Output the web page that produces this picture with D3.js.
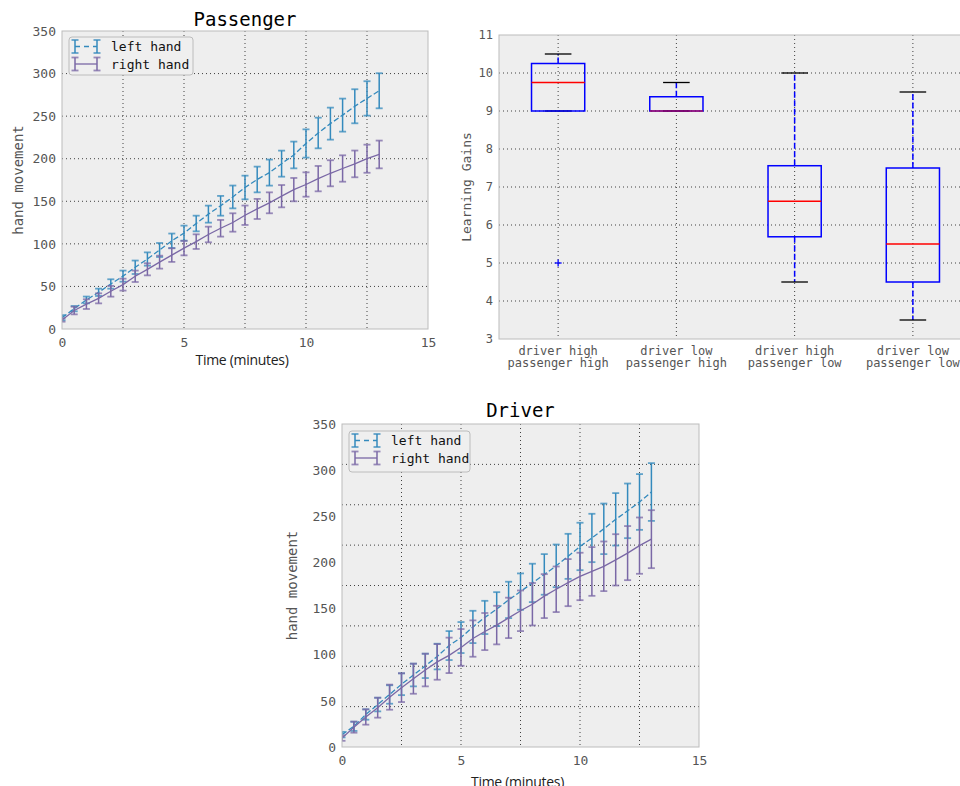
<!DOCTYPE html>
<html><head><meta charset="utf-8">
<script src="https://cdn.jsdelivr.net/npm/d3@7"></script>
<style>
html,body{margin:0;padding:0;background:#fff;}
svg{display:block;}
</style></head>
<body>
<svg id="chart" width="960" height="786"></svg>
<script>
// ---------------- DATA ----------------
const times = [0,0.5,1,1.5,2,2.5,3,3.5,4,4.5,5,5.5,6,6.5,7,7.5,8,8.5,9,9.5,10,10.5,11,11.5,12,12.5,13];

const passengerLeftMean  = [13.3,23.9,34.1,43.1,52.9,62.1,72.5,82.2,92.8,103.6,112.6,123.9,134.9,144.7,155.1,166.2,175.6,183.7,194.2,204.4,217.9,230.2,241.2,251.2,261.6,270.8,279.8];
const passengerLeftErr   = [3,3.1,4,4.3,5.5,6.5,7.9,7.8,8.2,8.5,8.8,9.2,10,11.6,13.4,13.9,15.1,15.3,15.3,15.7,16.6,18,18.8,19.4,20,20.2,20.6];
const passengerRightMean = [10.6,21.7,29.2,36,44.3,52.1,61.9,70.1,78.5,86.8,95,102.6,111,118.3,125.1,133.6,141,148.2,156,163.7,169.7,176.6,182.9,188.5,193.9,200,205];
const passengerRightErr  = [2,4.5,5.7,5.9,6.3,7,6.7,7.1,7.6,8,8.5,8.6,9.2,9.8,10.8,11.4,11.8,12.3,13.1,13.7,14.3,14.9,15.3,15.5,15.7,16.5,16.3];

const driverLeftMean  = [13.4,22.4,35.2,46,56.9,68,78,87.9,98,109.9,118.6,130.1,140.4,149.4,159.4,168.4,177.8,187,196.3,206.6,217.3,226.5,236.4,246.7,255.9,265.5,276.3];
const driverLeftErr   = [3,5,5.6,7.4,10,11.8,12.3,13.2,13.9,15.7,16.8,17.5,18,18.4,19.7,19.7,20.8,22,23.1,24.4,25.7,26.2,27.4,28.4,29.6,30.2,31.3];
const driverRightMean = [9.7,21.5,32.5,42.6,54,64.3,74,83.4,92.2,99.3,107.9,117.5,125.1,132.1,139.9,147.6,154.7,163.5,170.9,178.1,184.8,190.2,195.8,202.8,210.1,218.2,225.2];
const driverRightErr  = [3,6,8.3,10.8,13.6,15.6,16.3,17.7,19.3,19.2,19.9,19.7,20.1,20.9,21.9,22,23,23.8,24.7,25.5,25.7,26.4,26.9,27.8,29.3,30.5,31.4];

const seriesNames = ["left hand","right hand"];
const xTicks = [0,5,10,15];
const yTicks = [0,50,100,150,200,250,300,350];

const boxLabels = [["driver high","passenger high"],["driver low","passenger high"],["driver high","passenger low"],["driver low","passenger low"]];
const boxQ1      = [9, 9, 5.69, 4.5];
const boxMedian  = [9.75, 9, 6.625, 5.5];
const boxQ3      = [10.25, 9.375, 7.56, 7.5];
const whiskerLow = [9, 9, 4.5, 3.5];
const whiskerHigh= [10.5, 9.75, 10, 9.5];
const boxFliers  = [[5], [], [], []];
const boxYTicks  = [3,4,5,6,7,8,9,10,11];

// ---------------- STYLE ----------------
const BLUE = "#348ABD", PURPLE = "#7A68A6";
const MONO = "'DejaVu Sans Mono', monospace";
const svg = d3.select("#chart");
svg.append("rect").attr("width",960).attr("height",786).attr("fill","#fff");

function gridLines(g, x, y, xs, ys, x0, x1, y0, y1){
  xs.forEach(v => g.append("line").attr("x1",x(v)).attr("x2",x(v)).attr("y1",y0).attr("y2",y1)
     .attr("stroke","#222").attr("stroke-width",1).attr("stroke-dasharray","1,3").attr("opacity",0.85));
  ys.forEach(v => g.append("line").attr("x1",x0).attr("x2",x1).attr("y1",y(v)).attr("y2",y(v))
     .attr("stroke","#222").attr("stroke-width",1).attr("stroke-dasharray","1,3").attr("opacity",0.85));
}

function styleAxis(g, size){
  g.select(".domain").remove();
  g.selectAll(".tick line").remove();
  g.selectAll("text").attr("font-family",MONO).attr("font-size",size).attr("fill","#555");
}

function lineChart(opt){
  const {left,right,top,bottom,title,titleY,leftMean,leftErr,rightMean,rightErr,gridY,ylabX,xlabY,legend} = opt;
  const x = d3.scaleLinear().domain([0,15]).range([left,right]);
  const y = d3.scaleLinear().domain([0,350]).range([bottom,top]);
  const g = svg.append("g");
  g.append("rect").attr("x",left).attr("y",top).attr("width",right-left).attr("height",bottom-top).attr("fill","#eeeeee");
  gridLines(g, x, y, [2.5,5,7.5,10,12.5], gridY, left, right, top, bottom);

  // series
  const series = [
    {mean:leftMean, err:leftErr, color:BLUE, dash:"5.5,2.5"},
    {mean:rightMean, err:rightErr, color:PURPLE, dash:null}
  ];
  const clip = "clip"+Math.round(left);
  svg.append("clipPath").attr("id",clip).append("rect").attr("x",left).attr("y",top).attr("width",right-left).attr("height",bottom-top);
  const pg = g.append("g").attr("clip-path",`url(#${clip})`);
  series.forEach(s=>{
    const line = d3.line().x((d,i)=>x(times[i])).y(d=>y(d));
    pg.append("path").datum(s.mean).attr("d",line).attr("fill","none").attr("stroke",s.color)
      .attr("stroke-width",1.3).attr("stroke-dasharray",s.dash);
    times.forEach((t,i)=>{
      const cx = x(t), yt = y(s.mean[i]+s.err[i]), yb = y(s.mean[i]-s.err[i]);
      pg.append("line").attr("x1",cx).attr("x2",cx).attr("y1",yt).attr("y2",yb).attr("stroke",s.color).attr("stroke-width",1.5);
      [yt,yb].forEach(yy=> pg.append("line").attr("x1",cx-3.5).attr("x2",cx+3.5).attr("y1",yy).attr("y2",yy)
          .attr("stroke",s.color).attr("stroke-width",1.8).attr("opacity",0.75));
    });
  });

  // frame
  g.append("rect").attr("x",left).attr("y",top).attr("width",right-left).attr("height",bottom-top)
    .attr("fill","none").attr("stroke","#bcbcbc").attr("stroke-width",1);

  // axes
  const ax = g.append("g").attr("transform",`translate(0,${bottom})`).call(d3.axisBottom(x).tickValues(xTicks).tickSize(0).tickPadding(9));
  styleAxis(ax, 13);
  const ay = g.append("g").attr("transform",`translate(${left},0)`).call(d3.axisLeft(y).tickValues(yTicks).tickSize(0).tickPadding(6));
  styleAxis(ay, 13);

  // title, labels
  g.append("text").attr("x",(left+right)/2).attr("y",titleY).attr("text-anchor","middle")
    .attr("font-family",MONO).attr("font-size",19).attr("fill","#000").text(title);
  g.append("text").attr("transform",`translate(${ylabX},${(top+bottom)/2}) rotate(-90)`).attr("text-anchor","middle")
    .attr("dominant-baseline","central").attr("font-family",MONO).attr("font-size",14).attr("fill","#555").text("hand movement");
  g.append("text").attr("x",(left+right)/2 - 3).attr("y",xlabY).attr("text-anchor","middle")
    .attr("font-family","'Open Sans', sans-serif").attr("font-size",14).attr("fill","#222").attr("letter-spacing","-0.3").text("Time (minutes)");

  // legend
  const lx = left+legend.dx, ly = top+legend.dy;
  g.append("rect").attr("x",lx).attr("y",ly).attr("width",legend.w).attr("height",legend.h).attr("rx",3)
    .attr("fill","#efefef").attr("stroke","#bcbcbc").attr("stroke-width",1);
  series.forEach((s,i)=>{
    const cy = ly + 9.5 + i*17.5;
    const hx0 = lx+6, hx1 = lx+28;
    g.append("line").attr("x1",hx0).attr("x2",hx1).attr("y1",cy).attr("y2",cy).attr("stroke",s.color)
      .attr("stroke-width",1.3).attr("stroke-dasharray",s.dash ? "5,4" : null);
    [hx0,hx1].forEach(hx=>{
      g.append("line").attr("x1",hx).attr("x2",hx).attr("y1",cy-6.5).attr("y2",cy+6.5).attr("stroke",s.color).attr("stroke-width",1.5);
      [cy-6.5,cy+6.5].forEach(yy=>g.append("line").attr("x1",hx-3.5).attr("x2",hx+3.5).attr("y1",yy).attr("y2",yy)
        .attr("stroke",s.color).attr("stroke-width",1.8).attr("opacity",0.75));
    });
    g.append("text").attr("x",lx+42).attr("y",cy+4.5).attr("font-family",MONO).attr("font-size",13).attr("fill","#111").text(seriesNames[i]);
  });
}

lineChart({left:62,right:428,top:31,bottom:329,title:"Passenger",titleY:26,
  leftMean:passengerLeftMean,leftErr:passengerLeftErr,rightMean:passengerRightMean,rightErr:passengerRightErr,
  gridY:[50,100,150,200,250,300], ylabX:18, xlabY:365,
  legend:{dx:7,dy:6,w:124,h:38}});

lineChart({left:342,right:699,top:424,bottom:747,title:"Driver",titleY:417,
  leftMean:driverLeftMean,leftErr:driverLeftErr,rightMean:driverRightMean,rightErr:driverRightErr,
  gridY:d3.range(1,8).map(k=>350*k/8), ylabX:292, xlabY:787,
  legend:{dx:7,dy:7,w:121,h:41}});

// ---------------- BOX PLOT ----------------
(function(){
  const left = 499, top = 35, bottom = 339, right = 972;
  const x = d3.scaleLinear().domain([0.5,4.5]).range([left,right]);
  const y = d3.scaleLinear().domain([3,11]).range([bottom,top]);
  const g = svg.append("g");
  g.append("rect").attr("x",left).attr("y",top).attr("width",right-left).attr("height",bottom-top).attr("fill","#eeeeee");
  gridLines(g, x, y, [1,2,3,4], [4,5,6,7,8,9,10], left, right, top, bottom);
  const bw = 0.45;
  boxLabels.forEach((lab,i)=>{
    const p = i+1;
    const x0 = x(p-bw/2), x1 = x(p+bw/2), cx = x(p);
    // whiskers
    [[boxQ3[i],whiskerHigh[i]],[boxQ1[i],whiskerLow[i]]].forEach(([a,b])=>{
      if (a!==b) g.append("line").attr("x1",cx).attr("x2",cx).attr("y1",y(a)).attr("y2",y(b))
        .attr("stroke","#0000ff").attr("stroke-width",1.5).attr("stroke-dasharray","6,2.5");
    });
    // caps
    [whiskerHigh[i],whiskerLow[i]].forEach(v=> g.append("line").attr("x1",x(p-bw/4)).attr("x2",x(p+bw/4))
      .attr("y1",y(v)).attr("y2",y(v)).attr("stroke","#000").attr("stroke-width",1.3));
    // box
    g.append("rect").attr("x",x0).attr("y",y(boxQ3[i])).attr("width",x1-x0).attr("height",y(boxQ1[i])-y(boxQ3[i]))
      .attr("fill","none").attr("stroke","#0000ff").attr("stroke-width",1.5);
    // median
    g.append("line").attr("x1",x0).attr("x2",x1).attr("y1",y(boxMedian[i])).attr("y2",y(boxMedian[i]))
      .attr("stroke","#ff0000").attr("stroke-width",1.3).attr("opacity", boxMedian[i]===boxQ1[i]?0.6:1);
    // fliers
    boxFliers[i].forEach(v=>{
      g.append("line").attr("x1",cx-3.5).attr("x2",cx+3.5).attr("y1",y(v)).attr("y2",y(v)).attr("stroke","#0000ff").attr("stroke-width",1.3);
      g.append("line").attr("x1",cx).attr("x2",cx).attr("y1",y(v)-3.5).attr("y2",y(v)+3.5).attr("stroke","#0000ff").attr("stroke-width",1.3);
    });
    // labels
    lab.forEach((t,j)=> g.append("text").attr("x",cx).attr("y",bottom+16+j*12).attr("text-anchor","middle")
      .attr("font-family",MONO).attr("font-size",12).attr("fill","#555").text(t));
  });
  g.append("rect").attr("x",left).attr("y",top).attr("width",right-left).attr("height",bottom-top)
    .attr("fill","none").attr("stroke","#bcbcbc").attr("stroke-width",1);
  const ay = g.append("g").attr("transform",`translate(${left},0)`).call(d3.axisLeft(y).tickValues(boxYTicks).tickSize(0).tickPadding(6));
  styleAxis(ay, 12);
  g.append("text").attr("transform",`translate(466,${(top+bottom)/2}) rotate(-90)`).attr("text-anchor","middle")
    .attr("dominant-baseline","central").attr("font-family",MONO).attr("font-size",13).attr("fill","#555").text("Learning Gains");
})();
</script>
</body></html>
